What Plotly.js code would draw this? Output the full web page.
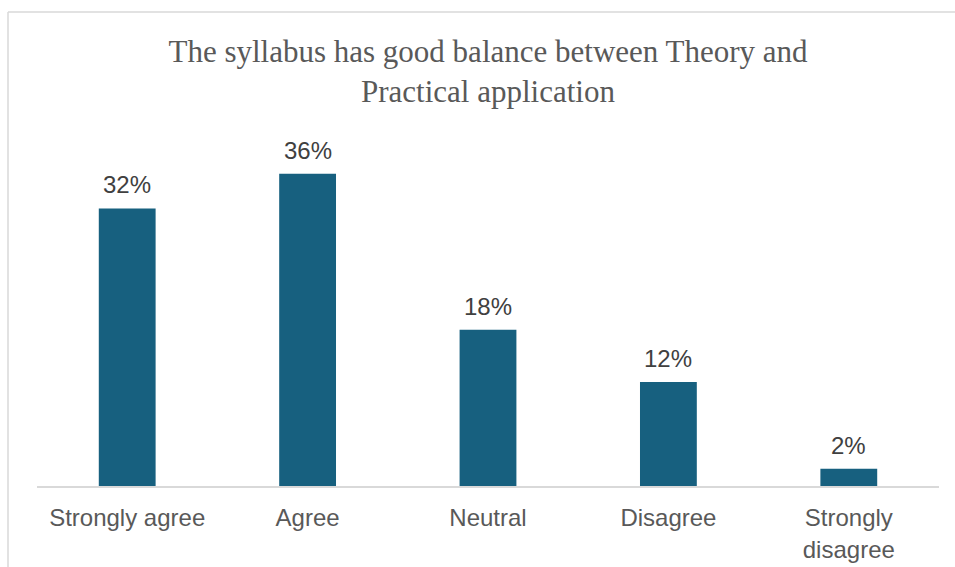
<!DOCTYPE html>
<html><head><meta charset="utf-8">
<script src="https://cdn.plot.ly/plotly-3.0.1.min.js"></script>
<style>html,body{margin:0;padding:0;background:#fff}#chart{width:955px;height:567px}</style>
</head><body><div id="chart"></div>
<script>
const categories = ["Strongly agree", "Agree", "Neutral", "Disagree", "Strongly<br>disagree"];
const values = [32, 36, 18, 12, 2];
const labels = ["32%", "36%", "18%", "12%", "2%"];
const titleText = "The syllabus has good balance between Theory and<br>Practical application";

const PW = 902, PH = 347;
const trace = {
  type: "bar", x: categories, y: values,
  marker: {color: "#17607F"},
  width: 0.315, hoverinfo: "skip"
};
const annotations = categories.map((c, i) => ({
  x: c, y: values[i], xref: "x", yref: "y", text: labels[i], showarrow: false,
  yanchor: "bottom", yshift: 8,
  font: {family: "Liberation Sans, Arial, sans-serif", size: 24, color: "#404040"}
}));
const layout = {
  width: 955, height: 567,
  margin: {l: 37, r: 16, t: 139, b: 81},
  paper_bgcolor: "#fff", plot_bgcolor: "#fff",
  showlegend: false,
  title: {text: titleText, x: 0.5, xref: "paper", y: 0.891, yref: "container", yanchor: "top",
    font: {family: "Liberation Serif, Times New Roman, serif", size: 31, color: "#595959"}},
  xaxis: {showgrid: false, zeroline: false, showline: true, linecolor: "#D9D9D9", linewidth: 1.5,
    ticks: "outside", ticklen: 10, tickcolor: "rgba(0,0,0,0)", fixedrange: true,
    tickfont: {family: "Liberation Sans, Arial, sans-serif", size: 24, color: "#595959"}},
  yaxis: {range: [0, 40], visible: false, showgrid: false, zeroline: false, fixedrange: true},
  annotations: annotations,
  shapes: [
    {type: "line", xref: "paper", yref: "paper", x0: -29/PW, x1: 918/PW, y0: (486-12)/PH, y1: (486-12)/PH, line: {color: "#D9D9D9", width: 1.5}},
    {type: "line", xref: "paper", yref: "paper", x0: -29/PW, x1: -29/PW, y0: (486-12)/PH, y1: -81/PH, line: {color: "#D9D9D9", width: 1.5}}
  ]
};
Plotly.newPlot("chart", [trace], layout, {displayModeBar: false, staticPlot: true});
</script></body></html>
